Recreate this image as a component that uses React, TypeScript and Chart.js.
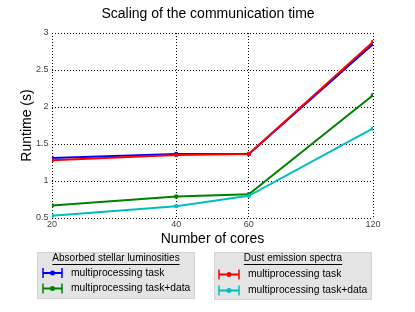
import React, { useEffect, useRef } from "react";
import { Chart, registerables } from "chart.js";
Chart.register(...registerables);

const cores = [20, 40, 60, 120];
const xTicks = [20, 40, 60, 120];
const yTicks = [0.5, 1, 1.5, 2, 2.5, 3];
const absorbedTask = [1.31, 1.365, 1.365, 2.85];
const absorbedTaskData = [0.67, 0.79, 0.82, 2.16];
const dustTask = [1.28, 1.35, 1.365, 2.88];
const dustTaskData = [0.53, 0.66, 0.8, 1.71];

const titleText = "Scaling of the communication time";
const xTitle = "Number of cores";
const yTitle = "Runtime (s)";
const legendGroups = [
  { title: "Absorbed stellar luminosities", labels: ["multiprocessing task", "multiprocessing task+data"], colors: ["#0000ff", "#008000"] },
  { title: "Dust emission spectra", labels: ["multiprocessing task", "multiprocessing task+data"], colors: ["#ff0000", "#00bfbf"] },
];

const FONT = "'Liberation Sans', Arial, Helvetica, sans-serif";

const toPts = (ys: number[]) => cores.map((x, i) => ({ x, y: ys[i] }));

function drawMarker(ctx: CanvasRenderingContext2D, x0: number, x1: number, y: number, color: string) {
  ctx.save();
  ctx.strokeStyle = color;
  ctx.fillStyle = color;
  ctx.lineWidth = 2;
  ctx.beginPath();
  ctx.moveTo(x0, y);
  ctx.lineTo(x1, y);
  ctx.stroke();
  ctx.lineWidth = 1.5;
  ctx.beginPath();
  ctx.moveTo(x0, y - 5);
  ctx.lineTo(x0, y + 5);
  ctx.moveTo(x1, y - 5);
  ctx.lineTo(x1, y + 5);
  ctx.stroke();
  ctx.beginPath();
  ctx.arc((x0 + x1) / 2, y, 2.5, 0, Math.PI * 2);
  ctx.fill();
  ctx.restore();
}

const overlayPlugin = {
  id: "overlay",
  afterDraw(chart: any) {
    const ctx: CanvasRenderingContext2D = chart.ctx;
    ctx.save();
    // Title
    ctx.fillStyle = "#000";
    ctx.font = `14px ${FONT}`;
    ctx.textAlign = "center";
    ctx.textBaseline = "middle";
    ctx.fillText(titleText, 208, 14);

    const boxes = [
      { x: 37, y: 252, w: 158, h: 47, titleX: 116, titleY: 258, items: [273, 288.5], mx0: 43, mx1: 62, tx: 71 },
      { x: 214, y: 252, w: 158, h: 48, titleX: 293, titleY: 258, items: [274.5, 290.5], mx0: 219, mx1: 239, tx: 248 },
    ];
    boxes.forEach((b, gi) => {
      const g = legendGroups[gi];
      ctx.fillStyle = "#e4e4e4";
      ctx.fillRect(b.x, b.y, b.w, b.h);
      ctx.strokeStyle = "#d2d2d2";
      ctx.lineWidth = 1;
      ctx.strokeRect(b.x + 0.5, b.y + 0.5, b.w - 1, b.h - 1);
      ctx.fillStyle = "#000";
      ctx.font = `10px ${FONT}`;
      ctx.textAlign = "center";
      ctx.textBaseline = "middle";
      ctx.fillText(g.title, b.titleX, b.titleY);
      const tw = ctx.measureText(g.title).width;
      ctx.strokeStyle = "#000";
      ctx.beginPath();
      ctx.moveTo(b.titleX - tw / 2, b.titleY + 6.5);
      ctx.lineTo(b.titleX + tw / 2, b.titleY + 6.5);
      ctx.stroke();
      g.labels.forEach((lab, i) => {
        const y = b.items[i];
        drawMarker(ctx, b.mx0, b.mx1, y, g.colors[i]);
        ctx.fillStyle = "#000";
        ctx.textAlign = "left";
        ctx.textBaseline = "middle";
        ctx.font = `10.3px ${FONT}`;
        ctx.fillText(lab, b.tx, y);
      });
    });
    ctx.restore();
  },
};

export default function App() {
  const ref = useRef<HTMLCanvasElement | null>(null);
  useEffect(() => {
    document.body.style.margin = "0";
    const canvas = ref.current!;
    const mk = (label: string, ys: number[], color: string, order: number) => ({
      label,
      data: toPts(ys),
      borderColor: color,
      backgroundColor: color,
      borderWidth: 2,
      pointRadius: 2.2,
      pointBorderWidth: 0,
      pointBackgroundColor: color,
      tension: 0,
      order,
    });
    const chart = new Chart(canvas, {
      type: "line",
      data: {
        datasets: [
          mk("Absorbed: multiprocessing task", absorbedTask, "#0000ff", 4),
          mk("Absorbed: multiprocessing task+data", absorbedTaskData, "#008000", 3),
          mk("Dust: multiprocessing task", dustTask, "#ff0000", 2),
          mk("Dust: multiprocessing task+data", dustTaskData, "#00bfbf", 1),
        ],
      },
      options: {
        animation: false,
        responsive: false,
        devicePixelRatio: 1,
        layout: { padding: { top: 33, right: 42, left: 0, bottom: 64 } },
        plugins: { legend: { display: false }, title: { display: false }, tooltip: { enabled: false } },
        scales: {
          x: {
            type: "logarithmic",
            min: 20,
            max: 120,
            afterBuildTicks: (s: any) => {
              s.ticks = xTicks.map((v) => ({ value: v }));
            },
            afterFit: (s: any) => {
              s.height = 30;
            },
            ticks: {
              autoSkip: false,
              maxRotation: 0,
              padding: 1,
              color: "#444",
              font: { family: FONT, size: 9 },
              callback: (v: any) => String(v),
            },
            grid: { color: "#000", lineWidth: 1, drawTicks: false },
            border: { display: false, dash: [1, 2] },
            title: { display: true, text: xTitle, color: "#000", font: { family: FONT, size: 14 }, padding: { top: 0, bottom: 0.6 } },
          },
          y: {
            type: "linear",
            min: 0.5,
            max: 3,
            afterBuildTicks: (s: any) => {
              s.ticks = yTicks.map((v) => ({ value: v }));
            },
            afterFit: (s: any) => {
              s.width = 52;
            },
            ticks: {
              padding: 3.5,
              color: "#444",
              font: { family: FONT, size: 9 },
              callback: (v: any) => String(v),
            },
            grid: { color: "#000", lineWidth: 1, drawTicks: false },
            border: { display: false, dash: [1, 2] },
            title: { display: true, text: yTitle, color: "#000", font: { family: FONT, size: 14 }, padding: { top: 18.5, bottom: 0 } },
          },
        },
      },
      plugins: [overlayPlugin],
    } as any);
    return () => chart.destroy();
  }, []);
  return <canvas ref={ref} width={415} height={312} style={{ display: "block", width: 415, height: 312 }} />;
}
